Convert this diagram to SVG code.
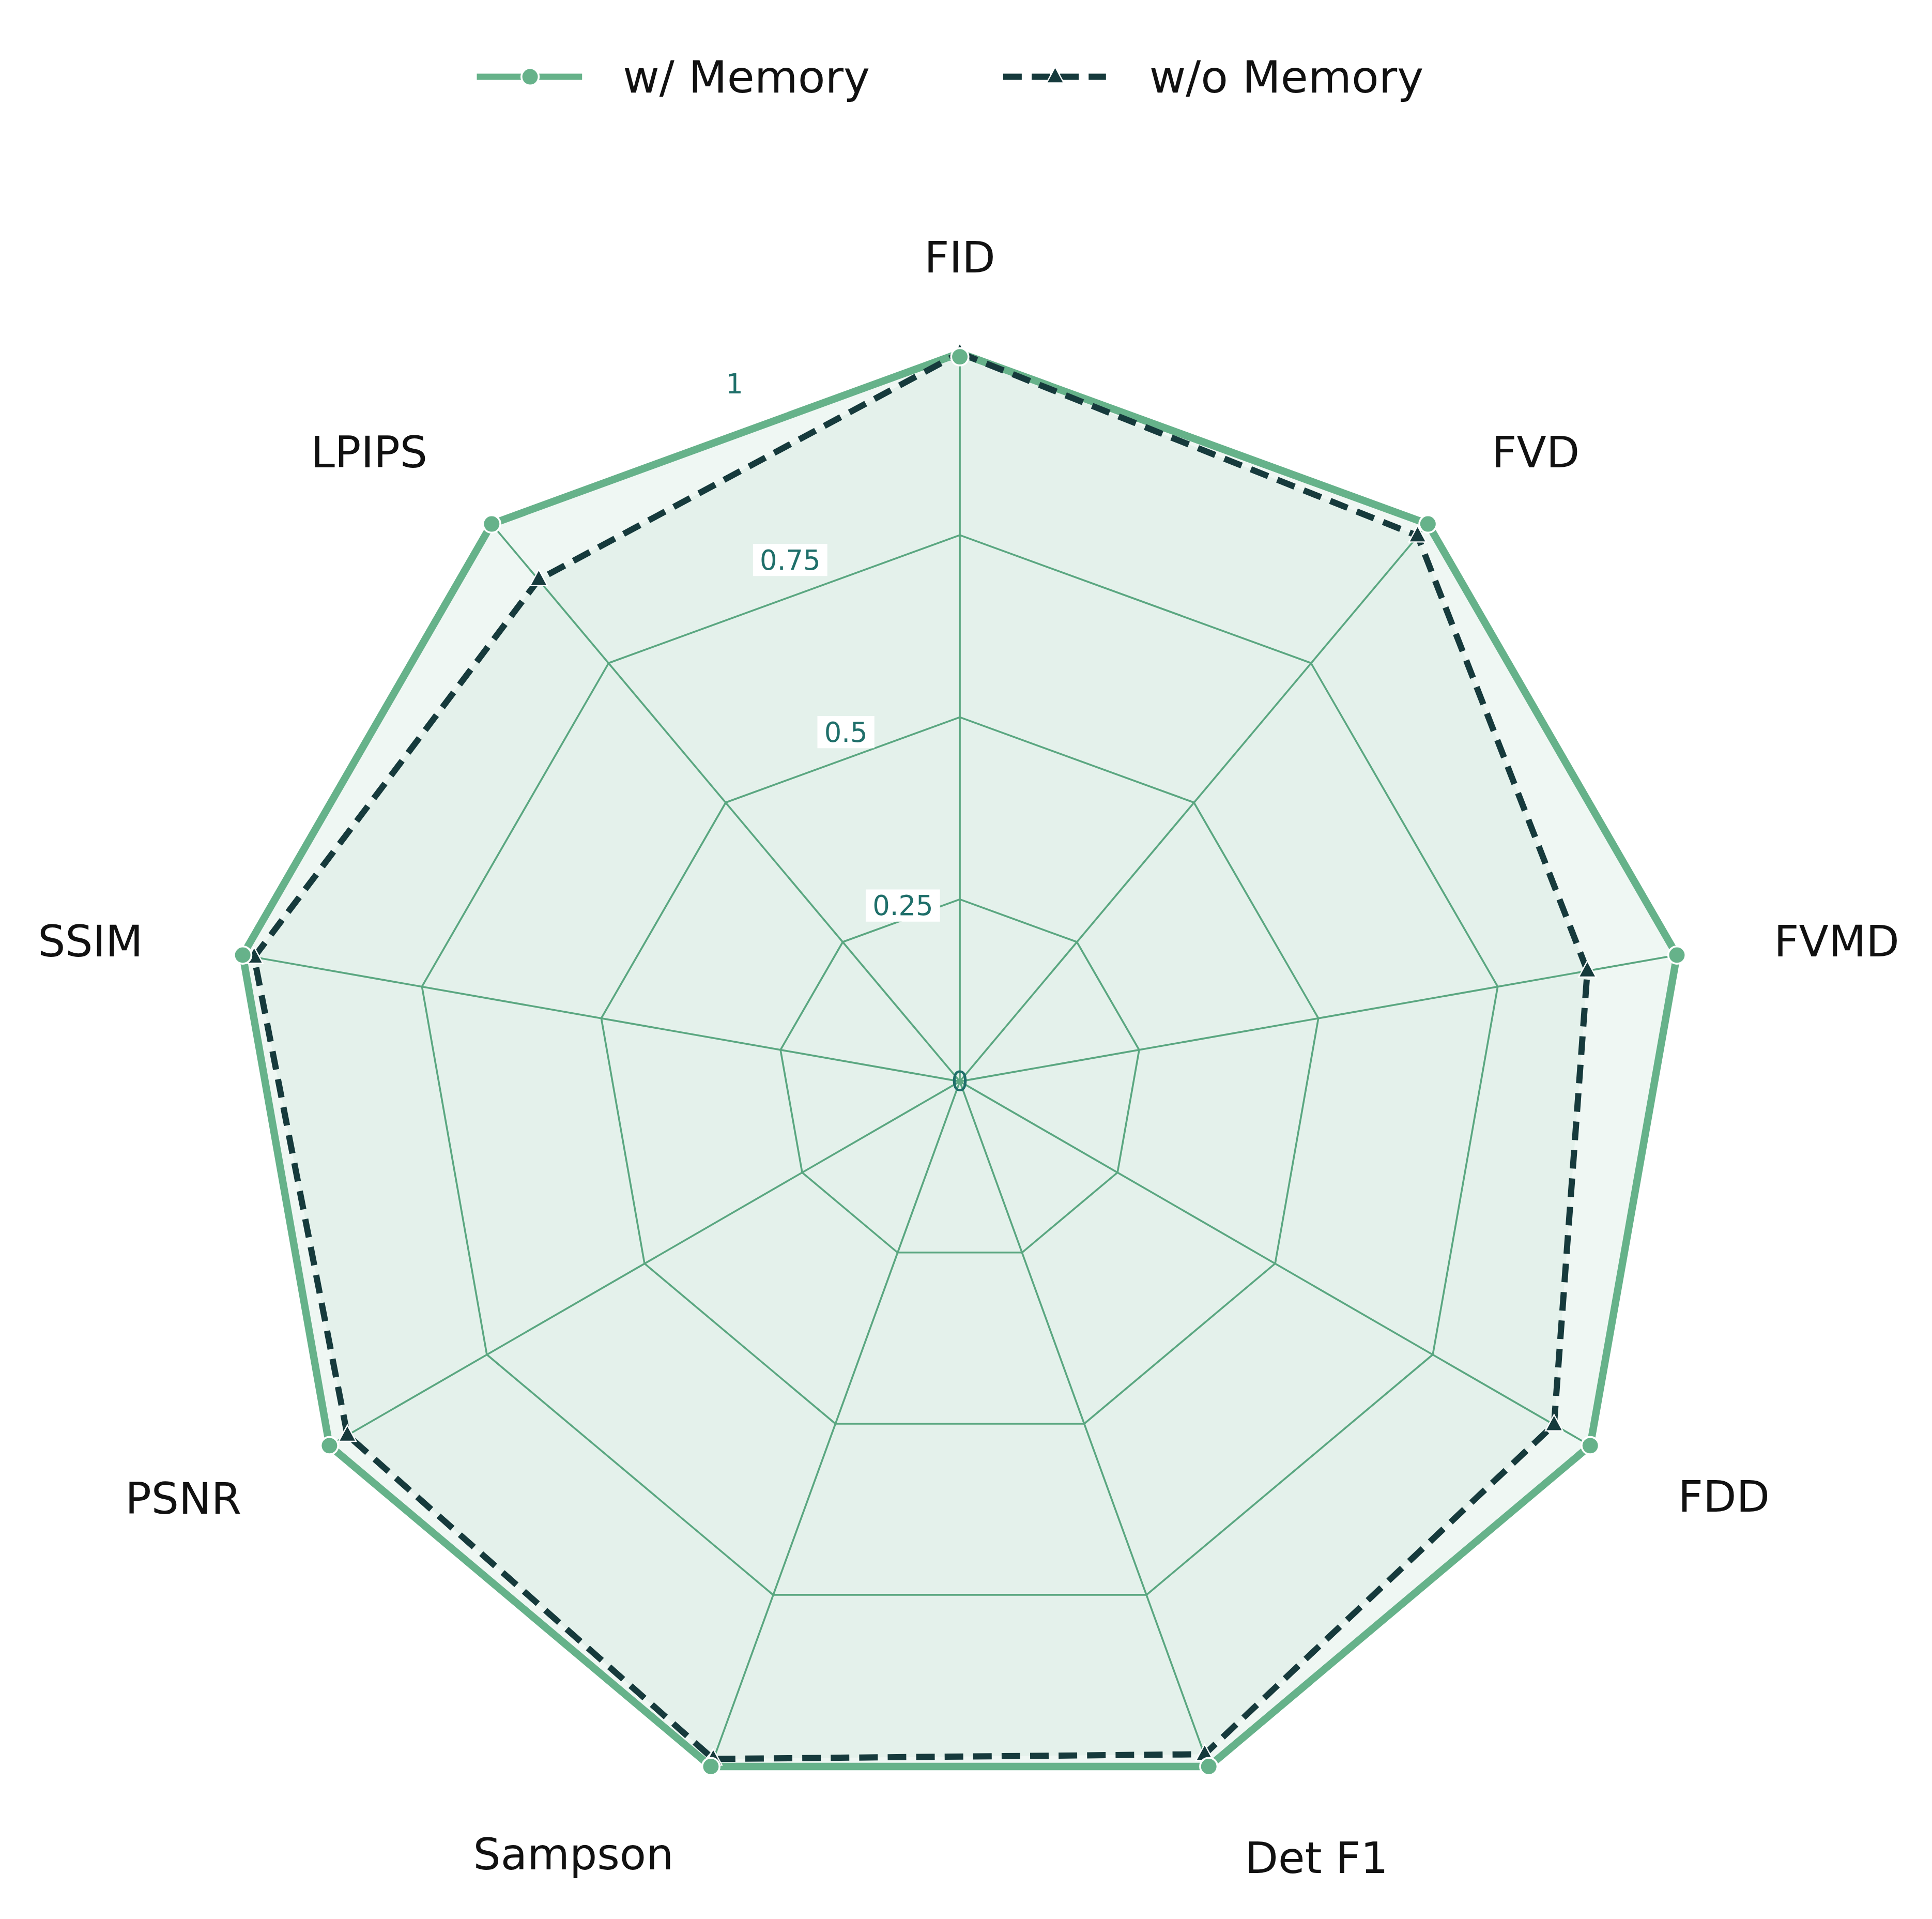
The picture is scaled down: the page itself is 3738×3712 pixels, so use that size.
<svg xmlns="http://www.w3.org/2000/svg" width="3738" height="3712" viewBox="0 0 3738 3712">
<style>
.grid{fill:none;stroke:#5aa57f;stroke-width:1.5}
.lab{font-family:"DejaVu Sans",sans-serif;font-size:35px;fill:#111;text-anchor:middle;dominant-baseline:central}
.tick{font-family:"DejaVu Sans",sans-serif;font-size:22px;fill:#1f6f6a;text-anchor:middle;dominant-baseline:central}
.leg{font-family:"DejaVu Sans",sans-serif;font-size:36px;fill:#111;dominant-baseline:central}
</style>
<defs>
<circle id="dot" r="7" fill="#66b28a" stroke="#fff" stroke-width="1.5"/>
<path id="tri" d="M0,-8 L7,5 L-7,5 Z" fill="#163a3c" stroke="#fff" stroke-width="1"/>
</defs>
<rect width="3738" height="3712" fill="#fff"/>
<g transform="scale(2.3962)">
<g id="grid">
<polygon class="grid" points="775,726 869.5,760.4 919.8,847.5 902.3,946.5 825.3,1011.1 724.7,1011.1 647.7,946.5 630.2,847.5 680.5,760.4"/>
<polygon class="grid" points="775,579 964,647.8 1064.5,822 1029.6,1020 875.5,1149.3 674.5,1149.3 520.4,1020 485.5,822 586,647.8"/>
<polygon class="grid" points="775,432 1058.5,535.2 1209.3,796.4 1156.9,1093.5 925.8,1287.4 624.2,1287.4 393.1,1093.5 340.7,796.4 491.5,535.2"/>
<path class="grid" d="M775,873L775,285M775,873L1153,423M775,873L1354,771M775,873L1284,1167M775,873L976,1426M775,873L574,1426M775,873L266,1167M775,873L196,771M775,873L397,423"/>
</g>
<g id="series-with">
<polygon points="775,285 1153,423 1354,771 1284,1167 976,1426 574,1426 266,1167 196,771 397,423" fill="#66b28a" fill-opacity="0.1" stroke="#66b28a" stroke-width="6" stroke-linejoin="miter"/>
</g>
<g id="series-without">
<polygon points="775,285 1144.6,432.5 1281.7,783.7 1254.8,1150 972.7,1416.1 575.9,1419.9 280.5,1158.5 205.2,772.6 435,467.8" fill="#66b28a" fill-opacity="0.08" stroke="#163a3c" stroke-width="5" stroke-dasharray="15,8"/>
</g>
<g id="markers">
<use href="#tri" x="775" y="285"/><use href="#tri" x="1144.6" y="432.5"/><use href="#tri" x="1281.7" y="783.7"/><use href="#tri" x="1254.8" y="1150"/><use href="#tri" x="972.7" y="1416.1"/><use href="#tri" x="575.9" y="1419.9"/><use href="#tri" x="280.5" y="1158.5"/><use href="#tri" x="205.2" y="772.6"/><use href="#tri" x="435" y="467.8"/>
<use href="#dot" x="775" y="288"/><use href="#dot" x="1153" y="423"/><use href="#dot" x="1354" y="771"/><use href="#dot" x="1284" y="1167"/><use href="#dot" x="976" y="1426"/><use href="#dot" x="574" y="1426"/><use href="#dot" x="266" y="1167"/><use href="#dot" x="196" y="771"/><use href="#dot" x="397" y="423"/>
</g>
<g id="ticks">
<rect x="699" y="718" width="60" height="26" fill="#fff"/><text class="tick" x="729" y="731">0.25</text>
<rect x="660" y="578" width="46" height="26" fill="#fff"/><text class="tick" x="683" y="591">0.5</text>
<rect x="608" y="439" width="60" height="26" fill="#fff"/><text class="tick" x="638" y="452">0.75</text>
<text class="tick" x="593" y="310">1</text>
<text class="tick" x="775" y="873">0</text>
</g>
<g id="labels">
<text class="lab" x="775" y="208">FID</text>
<text class="lab" x="1240" y="365">FVD</text>
<text class="lab" x="1483" y="760">FVMD</text>
<text class="lab" x="1392" y="1208">FDD</text>
<text class="lab" x="1063" y="1500">Det F1</text>
<text class="lab" x="463" y="1497">Sampson</text>
<text class="lab" x="148" y="1210">PSNR</text>
<text class="lab" x="73" y="760">SSIM</text>
<text class="lab" x="298" y="365">LPIPS</text>
</g>
<g id="legend">
<line x1="385" y1="62" x2="470" y2="62" stroke="#66b28a" stroke-width="5"/>
<use href="#dot" x="428" y="62"/>
<text class="leg" x="503" y="62">w/ Memory</text>
<line x1="810" y1="62" x2="893" y2="62" stroke="#163a3c" stroke-width="5" stroke-dasharray="15,8"/>
<use href="#tri" x="852" y="62"/>
<text class="leg" x="928" y="62">w/o Memory</text>
</g>
</g>
</svg>
